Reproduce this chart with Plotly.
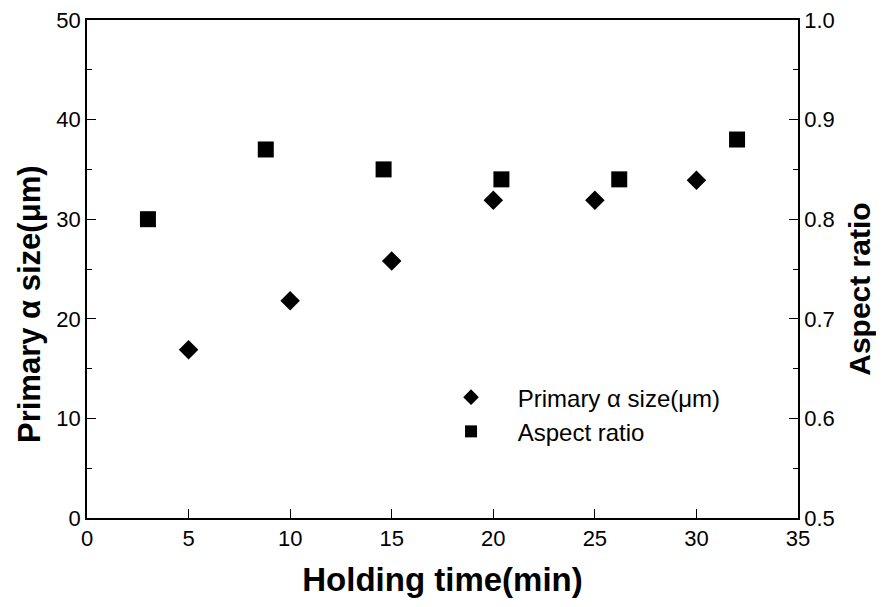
import plotly.graph_objects as go

# Data
size_x = [5, 10, 15, 20, 25, 30]
size_y = [16.9, 21.8, 25.8, 31.9, 31.9, 33.9]
ar_x = [3.0, 8.8, 14.6, 20.4, 26.2, 32.0]
ar_y = [0.80, 0.87, 0.85, 0.84, 0.84, 0.88]

x_ticks = [0, 5, 10, 15, 20, 25, 30, 35]
y_ticks = [0, 10, 20, 30, 40, 50]
y2_ticks = [0.5, 0.6, 0.7, 0.8, 0.9, 1.0]
y2_labels = ["0.5", "0.6", "0.7", "0.8", "0.9", "1.0"]

title_fam = "Liberation Sans Narrow, Arial Narrow, Liberation Sans, Arial"
tick_font = dict(family="Liberation Sans, Arial, sans-serif", size=22, color="black")
pad = "\u00a0" * 4

fig = go.Figure()
fig.add_trace(go.Scatter(
    x=size_x, y=size_y, mode="markers", name=pad + "Primary α size(μm)",
    marker=dict(symbol="diamond", size=15, color="black"),
    yaxis="y"))
fig.add_trace(go.Scatter(
    x=ar_x, y=ar_y, mode="markers", name=pad + "Aspect ratio",
    marker=dict(symbol="square", size=16, color="black"),
    yaxis="y2"))

fig.update_layout(
    width=884, height=607,
    margin=dict(l=79, r=94, t=12, b=97),
    paper_bgcolor="white", plot_bgcolor="white",
    showlegend=True,
    legend=dict(x=0.512, y=0.287, xanchor="left", yanchor="top",
                bgcolor="rgba(0,0,0,0)", borderwidth=0,
                font=dict(family=title_fam, size=24, color="black"),
                itemsizing="constant"),
    xaxis=dict(range=[0, 35], tickvals=x_ticks, automargin=False,
               ticks="inside", ticklen=9, tickcolor="black", tickwidth=1.2,
               showline=True, linecolor="black", linewidth=1.5, mirror=True,
               showgrid=False, zeroline=False, tickfont=tick_font,
               ticklabeloverflow="allow",
               title=dict(text="<b>Holding time(min)</b>",
                          font=dict(family=title_fam, size=33, color="black"), standoff=18)),
    yaxis=dict(range=[0, 50], tickvals=y_ticks, automargin=False,
               ticks="inside", ticklen=9, tickcolor="black", tickwidth=1.2,
               minor=dict(tickvals=[5, 15, 25, 35, 45], ticks="inside", ticklen=5, tickcolor="black"),
               showline=True, linecolor="black", linewidth=1.5,
               showgrid=False, zeroline=False, tickfont=tick_font,
               ticklabeloverflow="allow"),
    yaxis2=dict(range=[0.5, 1.0], tickvals=y2_ticks, ticktext=y2_labels, automargin=False,
                overlaying="y", side="right",
                ticks="inside", ticklen=9, tickcolor="black", tickwidth=1.2,
                minor=dict(tickvals=[0.55, 0.65, 0.75, 0.85, 0.95], ticks="inside", ticklen=5, tickcolor="black"),
                showline=True, linecolor="black", linewidth=1.5,
                showgrid=False, zeroline=False, tickfont=tick_font,
                ticklabeloverflow="allow"),
    annotations=[
        dict(text="<b>Primary α size(μm)</b>", textangle=-90, showarrow=False,
             xref="paper", yref="paper", x=-0.08, y=0.43, xanchor="center", yanchor="middle",
             font=dict(family=title_fam, size=31, color="black")),
        dict(text="<b>Aspect ratio</b>", textangle=-90, showarrow=False,
             xref="paper", yref="paper", x=1.087, y=0.46, xanchor="center", yanchor="middle",
             font=dict(family=title_fam, size=30, color="black")),
    ],
)

fig.write_html("out.html")
